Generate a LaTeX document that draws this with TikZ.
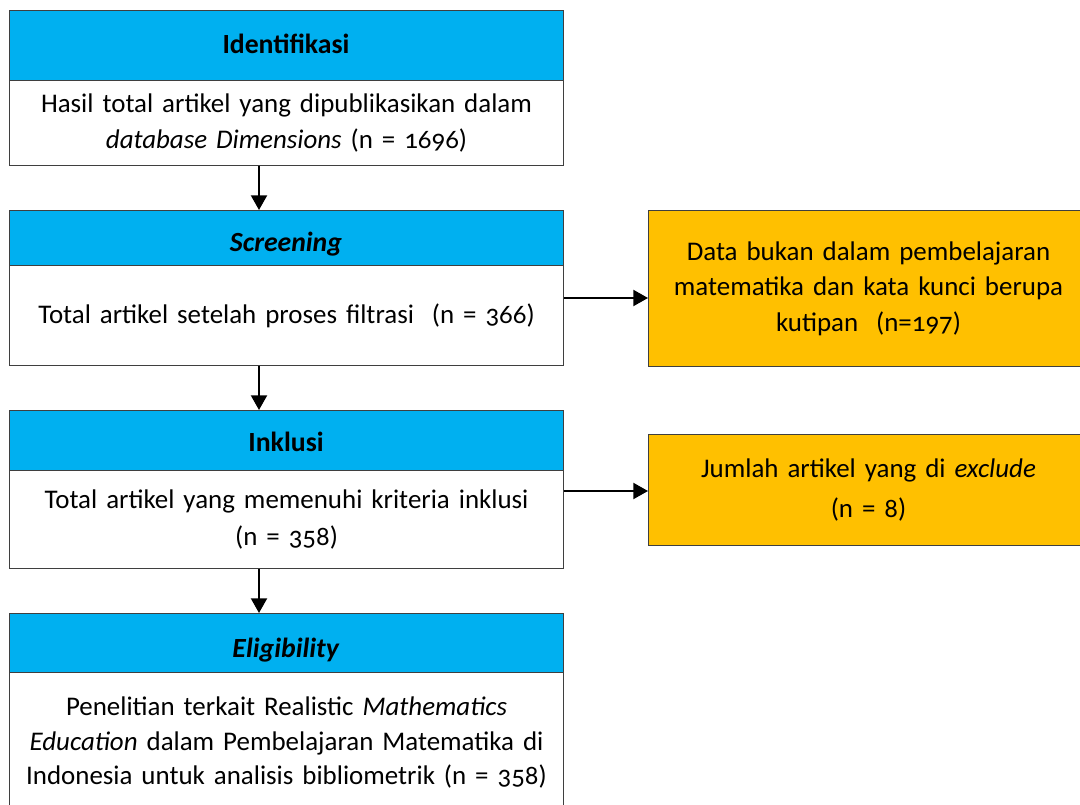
\documentclass[tikz,border=0pt]{standalone}
\usepackage{fontspec}
\setmainfont{Carlito}[Numbers=OldStyle]
\usetikzlibrary{arrows.meta,calc}
\definecolor{hdrblue}{HTML}{00B0F0}
\definecolor{boxorange}{HTML}{FFC000}
\definecolor{edgegray}{HTML}{3F3F3F}
\newcommand{\bodyfont}{\fontsize{20.2}{27.5}\selectfont}
\newcommand{\shiftedtext}[3]{\raisebox{#1}{\parbox{#2}{\centering #3}}}
\begin{document}
\begin{tikzpicture}[x=0.75pt,y=-0.75pt,
  hdr/.style={draw=edgegray, fill=hdrblue, line width=0.8pt, minimum width=415.5pt,
    inner sep=0pt, anchor=north west},
  hdrtext/.style={font=\fontsize{20.8}{25}\selectfont\bfseries, inner sep=0pt, anchor=base},
  body/.style={draw=edgegray, fill=white, line width=0.8pt, minimum width=415.5pt,
    inner sep=0pt, anchor=north west, align=center, text width=412pt, font=\bodyfont},
  side/.style={draw=edgegray, fill=boxorange, line width=0.8pt, minimum width=330pt,
    inner sep=0pt, anchor=north west, align=center, text width=326pt, font=\bodyfont},
  arr/.style={-{Triangle[length=11pt,width=12pt]}, line width=1.5pt, black}
]
\useasboundingbox (0,0) rectangle (1080,805);

% boxes
\node[hdr, minimum height=52.5pt] (idh) at (9,10) {};
\node[body, minimum height=63.75pt] (idb) at (9,80) {\shiftedtext{-4pt}{412pt}{Hasil total artikel yang dipublikasikan dalam\\\textit{database Dimensions} (n = 1696)}};

\node[hdr, minimum height=41.25pt] (sch) at (9,210) {};
\node[body, minimum height=75pt] (scb) at (9,265) {\shiftedtext{-6pt}{412pt}{Total artikel setelah proses filtrasi\ \ (n = 366)}};

\node[hdr, minimum height=45pt] (inh) at (9,410) {};
\node[body, minimum height=73.5pt] (inb) at (9,470) {\shiftedtext{-3pt}{412pt}{Total artikel yang memenuhi kriteria inklusi\\(n = 358)}};

\node[hdr, minimum height=44.25pt] (elh) at (9,613) {};
\node[body, minimum height=105pt] (elb) at (9,672) {\shiftedtext{5pt}{412pt}{\fontsize{20.2}{26}\selectfont Penelitian terkait Realistic \textit{Mathematics}\\\textit{Education} dalam Pembelajaran Matematika di\\Indonesia untuk analisis bibliometrik (n = 358)}};

% header titles, clipped to the inner area of their boxes
\begin{scope}
  \clip (idh.north west) rectangle ([yshift=8pt]idh.south east);
  \node[hdrtext] (idt) at (286,54) {Identifikasi};
\end{scope}
\begin{scope}
  \clip (sch.north west) rectangle ([yshift=8pt]sch.south east);
  \node[hdrtext] (sct) at (286,252) {\textit{Screening}};
\end{scope}
\begin{scope}
  \clip (inh.north west) rectangle ([yshift=8pt]inh.south east);
  \node[hdrtext] (int) at (286,451) {Inklusi};
\end{scope}
\begin{scope}
  \clip (elh.north west) rectangle ([yshift=8pt]elh.south east);
  \node[hdrtext] (elt) at (286,657) {\textit{Eligibility}};
\end{scope}

% side boxes
\node[side, minimum height=117pt] (ex1) at (648,210) {\shiftedtext{-2pt}{326pt}{\fontsize{20.2}{26.5}\selectfont Data bukan dalam pembelajaran\\matematika dan kata kunci berupa\\kutipan\ \ (n=197)}};
\node[side, minimum height=83.25pt] (ex2) at (648,434) {\shiftedtext{-7pt}{326pt}{Jumlah artikel yang di \textit{exclude}\\[3pt](n = 8)}};

% connectors
\coordinate (ax) at (259,0);
\coordinate (r1) at (600,298);
\coordinate (r2) at (600,491);
\draw[arr] (idb.south -| ax) -- (sch.north -| ax);
\draw[arr] (scb.south -| ax) -- (inh.north -| ax);
\draw[arr] (inb.south -| ax) -- (elh.north -| ax);
\draw[arr] (scb.east |- r1) -- (ex1.west |- r1);
\draw[arr] (inb.east |- r2) -- (ex2.west |- r2);
\end{tikzpicture}
\end{document}
